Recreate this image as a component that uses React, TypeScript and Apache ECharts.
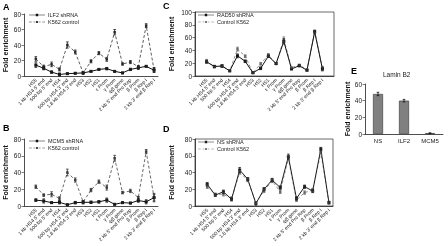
import React, { useEffect, useRef } from "react";
import * as echarts from "echarts";

const sites = [
  "HS5", "1 kb HS4 5' end", "500 bp 5' end", "HS4", "500 bp HS4 3' end",
  "1.8 kb HS4 3' end", "HS3", "HS2", "HS1", "ε Prom", "γ Prom", "ψβ gene",
  "2 kb 5' end Pro Rep", "β Prom", "β Rep I", "2 kb 3' end β Rep I",
];

const ilf2 = [14, 10, 5, 2, 3, 3.5, 4, 6, 8.5, 9.5, 6, 4, 8.5, 10.5, 12.5, 7.5];
const ilf2Err = [3, 2, 1.5, 2, 1, 1, 1, 1, 1, 1.5, 1, 1, 1.5, 2, 1, 3];
const k562A = [22, 12, 15, 8.5, 40, 31, 4, 19, 29.5, 21.5, 56.5, 15.5, 18, 12, 65, 8];
const k562AErr = [3, 2, 3, 2, 4, 2.5, 2, 2, 2, 2.5, 3.5, 1.5, 2, 1.5, 2.5, 3];

const mcm5 = [7, 6, 4, 4.4, 1.5, 4, 4.4, 4.4, 5, 7, 2, 4, 3.5, 6.5, 5, 10];
const mcm5Err = [1.5, 2.5, 1, 2, 1, 1.5, 2, 1.5, 1.5, 2.5, 1, 1, 1, 2, 2.5, 4];
const k562B = [23, 13, 14, 9, 40, 31, 5, 19, 29, 22, 57, 16, 18, 10, 65, 10];
const k562BErr = [2, 1.5, 3, 2, 4, 2.5, 1.5, 2, 2, 3, 3.5, 1.5, 2, 1.5, 2.5, 5];

const rad50 = [22, 15, 15.5, 8, 31.5, 23, 5, 12, 31, 19.5, 54, 11, 16, 9, 69, 11];
const rad50Err = [2, 1.5, 2, 1, 3, 2, 1, 2, 2, 1.5, 4, 1, 1.5, 1, 2, 3];
const ctrlC = [24, 14, 16, 8, 42, 31, 5, 19, 33, 19, 57, 13, 17, 10, 70, 12];
const ctrlCErr = [2, 1.5, 2, 1, 3, 2, 1, 2, 2, 1.5, 4, 1, 1.5, 1, 2, 3];

const ns = [26, 13, 17, 8, 43, 32, 3, 20, 31, 22, 59, 9, 23, 18, 68, 4];
const nsErr = [2, 1.5, 2, 2, 3, 2, 2, 2, 2, 2, 3, 2, 2, 2, 2, 1.5];
const ctrlD = [23, 14, 14, 9, 40, 31, 4, 18, 30, 17, 57, 7, 16, 19, 64, 4];
const ctrlDErr = [2, 1.5, 2, 2, 2, 2, 1, 2, 2, 2, 3, 1.5, 2, 2, 2, 1.5];

const laminCats = ["NS", "ILF2", "MCM5"];
const laminVals = [48, 40, 1];
const laminErr = [2, 1.5, 0.5];

const yTicksAB = { max: 80, interval: 20 };
const yTicksC = { max: 100, interval: 20 };
const yTicksE = { max: 60, interval: 20 };

const FONT = "Liberation Sans";

const ICON_SOLID = "path://M0,4.55H20V5.45H0Z M8.5,3.5H11.5V6.5H8.5Z";
const ICON_DASHED =
  "path://M0,4.6H3.5V5.4H0Z M5.5,4.6H8V5.4H5.5Z M12,4.6H14.5V5.4H12Z M16.5,4.6H20V5.4H16.5Z M8.8,3.8H11.2V6.2H8.8Z";

export default function App() {
  const ref = useRef<HTMLDivElement>(null);
  useEffect(() => {
    if (!ref.current) return;
    const chart = echarts.init(ref.current, undefined, { renderer: "svg" });

    const catsLead = ["", ...sites];
    const catsLeadTrail = ["", ...sites, ""];

    const errRender = (color: string) => (params: any, api: any) => {
      const x = api.value(0);
      const p1 = api.coord([x, api.value(1)]);
      const p2 = api.coord([x, api.value(2)]);
      const w = 1.3;
      const style = { stroke: color, lineWidth: 0.8, fill: "none" };
      return {
        type: "group",
        children: [
          { type: "line", shape: { x1: p1[0], y1: p1[1], x2: p2[0], y2: p2[1] }, style },
          { type: "line", shape: { x1: p1[0] - w, y1: p1[1], x2: p1[0] + w, y2: p1[1] }, style },
          { type: "line", shape: { x1: p2[0] - w, y1: p2[1], x2: p2[0] + w, y2: p2[1] }, style },
        ],
      };
    };

    const grids = [
      { left: 24, top: 14, width: 134, height: 62 },
      { left: 24, top: 139, width: 134, height: 67 },
      { left: 195, top: 12, width: 139, height: 64, show: true, borderColor: "#444", borderWidth: 0.8 },
      { left: 195, top: 139, width: 138, height: 67, show: true, borderColor: "#444", borderWidth: 0.8 },
      { left: 365, top: 84, width: 78, height: 50 },
    ];

    const xLine = (gi: number, cats: string[]) => ({
      type: "category",
      gridIndex: gi,
      data: cats,
      boundaryGap: true,
      axisLine: { lineStyle: { color: "#222", width: 0.8 } },
      axisTick: {
        alignWithLabel: true,
        length: 2,
        interval: (i: number, v: string) => v !== "",
        lineStyle: { color: "#222", width: 0.6 },
      },
      axisLabel: {
        rotate: 45,
        interval: 0,
        fontSize: 5,
        margin: 3,
        color: "#222",
        fontFamily: FONT,
      },
    });

    const yAxisFor = (gi: number, t: { max: number; interval: number }, gap: number) => ({
      type: "value",
      gridIndex: gi,
      min: 0,
      max: t.max,
      interval: t.interval,
      name: "Fold enrichment",
      nameLocation: "middle",
      nameGap: gap,
      nameTextStyle: { fontSize: 7, fontWeight: "bold", color: "#111", fontFamily: FONT },
      splitLine: { show: false },
      axisLine: { show: true, lineStyle: { color: "#222", width: 0.8 } },
      axisTick: { show: true, length: 2.5, lineStyle: { color: "#222", width: 0.6 } },
      axisLabel: { fontSize: 6.5, margin: 3, color: "#222", fontFamily: FONT },
    });

    const lineSeries = (
      name: string,
      gi: number,
      vals: number[],
      dashed: boolean,
      color: string,
      symbolSize: number
    ) => ({
      type: "line",
      name,
      xAxisIndex: gi,
      yAxisIndex: gi,
      data: [null, ...vals],
      symbol: "rect",
      symbolSize,
      itemStyle: { color },
      lineStyle: { color, width: dashed ? 0.8 : 1, type: dashed ? [3, 2] : "solid" },
      z: dashed ? 2 : 3,
    });

    const errSeries = (gi: number, vals: number[], errs: number[], color: string) => ({
      type: "custom",
      xAxisIndex: gi,
      yAxisIndex: gi,
      renderItem: errRender(color),
      encode: { x: 0, y: [1, 2] },
      data: vals.map((v, i) => [i + 1, v - errs[i], v + errs[i]]),
      z: 4,
      silent: true,
    });

    const legendFor = (left: number, top: number, names: string[]) => ({
      left,
      top,
      orient: "vertical",
      itemGap: 1,
      itemWidth: 16,
      itemHeight: 8,
      data: [
        { name: names[0], icon: ICON_SOLID },
        { name: names[1], icon: ICON_DASHED },
      ],
      textStyle: { fontSize: 5.5, color: "#222", fontFamily: FONT, padding: [0, 0, 0, -2] },
      padding: 0,
    });

    const option: any = {
      animation: false,
      backgroundColor: "#fff",
      textStyle: { fontFamily: FONT },
      grid: grids,
      xAxis: [
        xLine(0, catsLead),
        xLine(1, catsLead),
        xLine(2, catsLeadTrail),
        xLine(3, catsLead),
        {
          type: "category",
          gridIndex: 4,
          data: laminCats,
          axisLine: { lineStyle: { color: "#222", width: 0.8 } },
          axisTick: { length: 2, lineStyle: { color: "#222", width: 0.6 } },
          axisLabel: { fontSize: 6, margin: 4, color: "#222", fontFamily: FONT },
        },
      ],
      yAxis: [
        yAxisFor(0, yTicksAB, 15),
        yAxisFor(1, yTicksAB, 15),
        yAxisFor(2, yTicksC, 20),
        yAxisFor(3, yTicksAB, 20),
        yAxisFor(4, yTicksE, 12),
      ],
      legend: [
        legendFor(29, 12, ["ILF2 shRNA", "K562 control"]),
        legendFor(29, 138, ["MCM5 shRNA", "K562 control "]),
        legendFor(198, 12, ["RAD50 shRNA", "Control K562"]),
        legendFor(198, 139, ["NS shRNA", "Control K562 "]),
      ],
      graphic: [
        { type: "text", left: 3, top: 2, style: { text: "A", font: `bold 9px ${FONT}`, fill: "#000" } },
        { type: "text", left: 3, top: 123, style: { text: "B", font: `bold 9px ${FONT}`, fill: "#000" } },
        { type: "text", left: 163, top: 1, style: { text: "C", font: `bold 9px ${FONT}`, fill: "#000" } },
        { type: "text", left: 163, top: 124, style: { text: "D", font: `bold 9px ${FONT}`, fill: "#000" } },
        { type: "text", left: 351, top: 66, style: { text: "E", font: `bold 9px ${FONT}`, fill: "#000" } },
        { type: "text", left: 383, top: 71, style: { text: "Lamin B2", font: `6.5px ${FONT}`, fill: "#222" } },
      ],
      series: [
        lineSeries("K562 control", 0, k562A, true, "#333", 2.5),
        lineSeries("ILF2 shRNA", 0, ilf2, false, "#111", 3),
        errSeries(0, k562A, k562AErr, "#222"),
        errSeries(0, ilf2, ilf2Err, "#222"),

        lineSeries("K562 control ", 1, k562B, true, "#444", 2.5),
        lineSeries("MCM5 shRNA", 1, mcm5, false, "#111", 3),
        errSeries(1, k562B, k562BErr, "#333"),
        errSeries(1, mcm5, mcm5Err, "#222"),

        lineSeries("Control K562", 2, ctrlC, true, "#777", 2.5),
        lineSeries("RAD50 shRNA", 2, rad50, false, "#111", 3),
        errSeries(2, ctrlC, ctrlCErr, "#666"),
        errSeries(2, rad50, rad50Err, "#222"),

        lineSeries("Control K562 ", 3, ctrlD, true, "#777", 2.5),
        lineSeries("NS shRNA", 3, ns, false, "#222", 3),
        errSeries(3, ctrlD, ctrlDErr, "#666"),
        errSeries(3, ns, nsErr, "#222"),

        {
          type: "bar",
          xAxisIndex: 4,
          yAxisIndex: 4,
          data: laminVals,
          barWidth: 10,
          itemStyle: { color: "#808080", borderColor: "#333", borderWidth: 0.6 },
        },
        {
          type: "custom",
          xAxisIndex: 4,
          yAxisIndex: 4,
          renderItem: errRender("#111"),
          encode: { x: 0, y: [1, 2] },
          data: laminVals.map((v, i) => [i, v - laminErr[i], v + laminErr[i]]),
          z: 4,
          silent: true,
        },
      ],
    };

    chart.setOption(option);
    return () => chart.dispose();
  }, []);

  return (
    <div
      ref={ref}
      style={{
        position: "fixed",
        left: 0,
        top: 0,
        width: 448,
        height: 246,
        background: "#fff",
        filter: "grayscale(1)",
      }}
    />
  );
}
